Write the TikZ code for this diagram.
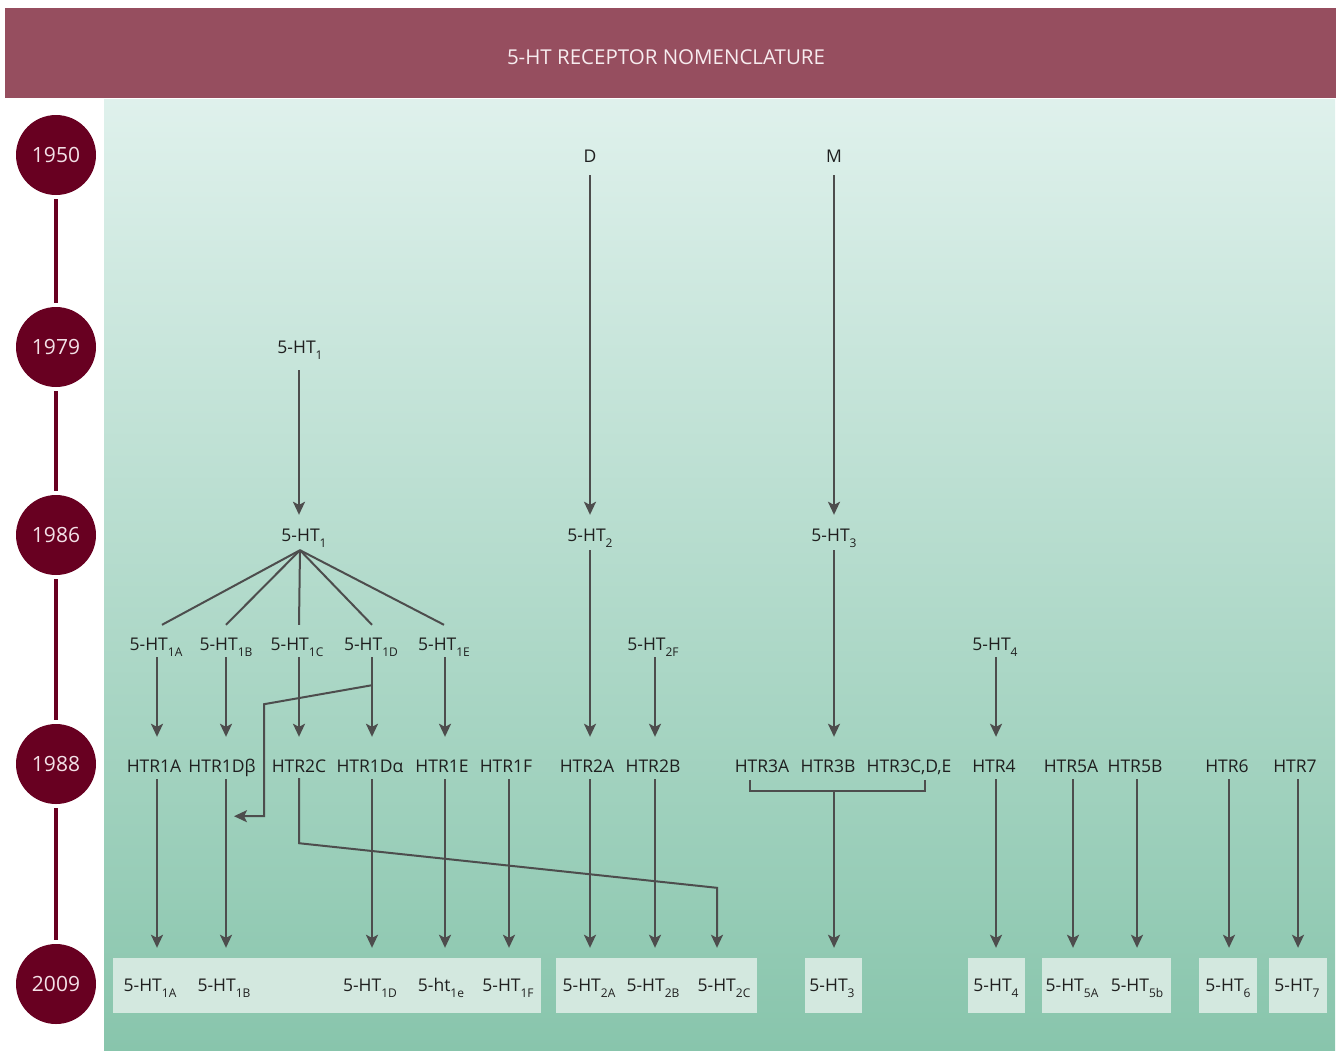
\documentclass[tikz,border=0pt]{standalone}
\usepackage{fontspec}
\setmainfont{Open Sans}
\usetikzlibrary{arrows.meta,calc}
\definecolor{hdr}{HTML}{964E5F}
\definecolor{hdrtext}{HTML}{F7ECEF}
\definecolor{yr}{HTML}{680021}
\definecolor{yrtext}{HTML}{F3E1E7}
\definecolor{gtop}{HTML}{DFF1EC}
\definecolor{gbot}{HTML}{88C5AC}
\definecolor{boxfill}{HTML}{D3E8DF}
\definecolor{txt}{HTML}{1F1F1F}
\definecolor{lncol}{HTML}{4D4D4D}
\newcommand\lsub[1]{\raisebox{-6pt}{\fontsize{12}{12}\selectfont #1}}
\begin{document}
\begin{tikzpicture}[x=1pt,y=-1pt,
  lbl/.style={anchor=base,inner sep=0pt,text height=12pt,text depth=0pt,font=\fontsize{17.5}{17.5}\selectfont,text=txt},
  conn/.style={draw=lncol,line width=2pt},
  arr/.style={conn,-{Stealth[length=13pt,width=12pt,inset=3pt]}},
  yearnode/.style={circle,fill=yr,minimum size=80pt,inner sep=0pt,font=\fontsize{21}{21}\selectfont,text=yrtext},
  tline/.style={draw=yr,line width=4pt,shorten <=4pt,shorten >=4pt},
  bx/.style={fill=boxfill}]
\useasboundingbox (0,0) rectangle (1337,1050);
% header and background
\fill[hdr] (5,8) rectangle (1336,98);
\node[font=\fontsize{20.5}{20.5}\selectfont,text=hdrtext] (title) at (666,57) {5-HT RECEPTOR NOMENCLATURE};
\shade[top color=gtop,bottom color=gbot] (104,99) rectangle (1335,1050);
% 2009 boxes
\fill[bx] (113,958) rectangle (541,1013);
\fill[bx] (556,958) rectangle (757,1013);
\fill[bx] (805,958) rectangle (862,1013);
\fill[bx] (968,958) rectangle (1025,1013);
\fill[bx] (1042,958) rectangle (1171,1013);
\fill[bx] (1199,958) rectangle (1257,1013);
\fill[bx] (1269,958) rectangle (1327,1013);
% timeline
\node[yearnode] (y1) at (56,155) {1950};
\node[yearnode] (y2) at (56,347) {1979};
\node[yearnode] (y3) at (56,535) {1986};
\node[yearnode] (y4) at (56,764) {1988};
\node[yearnode] (y5) at (56,984) {2009};
\draw[tline] (y1) -- (y2);
\draw[tline] (y2) -- (y3);
\draw[tline] (y3) -- (y4);
\draw[tline] (y4) -- (y5);
% row 1950
\node[lbl] (d) at (590,162) {D};
\node[lbl] (m) at (834,162) {M};
% row 1979
\node[lbl] (a1) at (300,353) {5-HT\lsub{1}};
% row 1986
\node[lbl] (c1) at (304,541) {5-HT\lsub{1}};
\node[lbl] (c2) at (590,541) {5-HT\lsub{2}};
\node[lbl] (c3) at (834,541) {5-HT\lsub{3}};
% row subtypes
\node[lbl] (s1a) at (156,650) {5-HT\lsub{1A}};
\node[lbl] (s1b) at (226,650) {5-HT\lsub{1B}};
\node[lbl] (s1c) at (297,650) {5-HT\lsub{1C}};
\node[lbl] (s1d) at (371,650) {5-HT\lsub{1D}};
\node[lbl] (s1e) at (444,650) {5-HT\lsub{1E}};
\node[lbl] (s2f) at (653,650) {5-HT\lsub{2F}};
\node[lbl] (s4) at (995,650) {5-HT\lsub{4}};
% row 1988
\node[lbl] (h1a) at (154,772) {HTR1A};
\node[lbl] (h1db) at (222,772) {HTR1Dβ};
\node[lbl] (h2c) at (299,772) {HTR2C};
\node[lbl] (h1da) at (370,772) {HTR1Dα};
\node[lbl] (h1e) at (442,772) {HTR1E};
\node[lbl] (h1f) at (506,772) {HTR1F};
\node[lbl] (h2a) at (587,772) {HTR2A};
\node[lbl] (h2b) at (653,772) {HTR2B};
\node[lbl] (h3a) at (762,772) {HTR3A};
\node[lbl] (h3b) at (828,772) {HTR3B};
\node[lbl] (h3c) at (909,772) {HTR3C,D,E};
\node[lbl] (h4) at (994,772) {HTR4};
\node[lbl] (h5a) at (1071,772) {HTR5A};
\node[lbl] (h5b) at (1135,772) {HTR5B};
\node[lbl] (h6) at (1227,772) {HTR6};
\node[lbl] (h7) at (1295,772) {HTR7};
% row 2009
\node[lbl] (t1a) at (150,991) {5-HT\lsub{1A}};
\node[lbl] (t1b) at (224,991) {5-HT\lsub{1B}};
\node[lbl] (t1d) at (370,991) {5-HT\lsub{1D}};
\node[lbl] (t1e) at (441,991) {5-ht\lsub{1e}};
\node[lbl] (t1f) at (508,991) {5-HT\lsub{1F}};
\node[lbl] (t2a) at (589,991) {5-HT\lsub{2A}};
\node[lbl] (t2b) at (653,991) {5-HT\lsub{2B}};
\node[lbl] (t2c) at (724,991) {5-HT\lsub{2C}};
\node[lbl] (t3) at (832,991) {5-HT\lsub{3}};
\node[lbl] (t4) at (996,991) {5-HT\lsub{4}};
\node[lbl] (t5a) at (1072,991) {5-HT\lsub{5A}};
\node[lbl] (t5b) at (1137,991) {5-HT\lsub{5b}};
\node[lbl] (t6) at (1228,991) {5-HT\lsub{6}};
\node[lbl] (t7) at (1297,991) {5-HT\lsub{7}};
% 1950 -> 1986
\draw[arr] ($(d.south)+(0,13)$) -- ($(d.south|-c2.north)+(0,-14)$);
\draw[arr] ($(m.south)+(0,13)$) -- ($(m.south|-c3.north)+(0,-14)$);
% 1979 -> 1986
\draw[arr] ($(a1.south)+(-1,17)$) -- ($(a1.south|-c1.north)+(-1,-14)$);
% fan
\coordinate (apex) at ($(c1.south)+(-4,9)$);
\draw[conn] (apex) -- ($(s1a.north)+(6,-13)$);
\draw[conn] (apex) -- ($(s1b.north)+(0,-13)$);
\draw[conn] (apex) -- ($(s1c.north)+(2,-13)$);
\draw[conn] (apex) -- ($(s1d.north)+(1,-13)$);
\draw[conn] (apex) -- ($(s1e.north)+(0,-13)$);
% subtypes -> 1988
\draw[arr] ($(s1a.south)+(1,7)$) -- ($(s1a.south|-h1a.north)+(1,-23)$);
\draw[arr] ($(s1b.south)+(0,7)$) -- ($(s1b.south|-h1db.north)+(0,-23)$);
\draw[arr] ($(s1c.south)+(2,7)$) -- ($(s1c.south|-h2c.north)+(2,-23)$);
\draw[arr] ($(s1d.south)+(1,7)$) -- ($(s1d.south|-h1da.north)+(1,-23)$);
\draw[arr] ($(s1e.south)+(1,7)$) -- ($(s1e.south|-h1e.north)+(1,-23)$);
\draw[arr] ($(c2.south)+(0,9)$) -- ($(c2.south|-h2a.north)+(0,-23)$);
\draw[arr] ($(s2f.south)+(2,7)$) -- ($(s2f.south|-h2b.north)+(2,-23)$);
\draw[arr] ($(c3.south)+(0,9)$) -- ($(c3.south|-h3b.north)+(0,-23)$);
\draw[arr] ($(s4.south)+(1,7)$) -- ($(s4.south|-h4.north)+(1,-23)$);
% 5-HT1D branch to HTR1Dbeta line
\coordinate (brA) at ($(s1d.south)+(1,35)$);
\draw[arr] (brA) -- ++(-108,19) -- ++(0,112) -- ($(h1db.south)+(12,44)$);
% 1988 -> 2009
\draw[arr] ($(h1a.south)+(3,7)$) -- ($(h1a.south|-t1a.north)+(3,-31)$);
\draw[arr] ($(h1db.south)+(4,7)$) -- ($(h1db.south|-t1b.north)+(4,-31)$);
\draw[arr] ($(h1da.south)+(2,7)$) -- ($(h1da.south|-t1d.north)+(2,-31)$);
\draw[arr] ($(h1e.south)+(3,7)$) -- ($(h1e.south|-t1e.north)+(3,-31)$);
\draw[arr] ($(h1f.south)+(3,7)$) -- ($(h1f.south|-t1f.north)+(3,-31)$);
\draw[arr] ($(h2a.south)+(3,7)$) -- ($(h2a.south|-t2a.north)+(3,-31)$);
\draw[arr] ($(h2b.south)+(2,7)$) -- ($(h2b.south|-t2b.north)+(2,-31)$);
\draw[arr] ($(h4.south)+(2,7)$) -- ($(h4.south|-t4.north)+(2,-31)$);
\draw[arr] ($(h5a.south)+(2,7)$) -- ($(h5a.south|-t5a.north)+(2,-31)$);
\draw[arr] ($(h5b.south)+(2,7)$) -- ($(h5b.south|-t5b.north)+(2,-31)$);
\draw[arr] ($(h6.south)+(2,7)$) -- ($(h6.south|-t6.north)+(2,-31)$);
\draw[arr] ($(h7.south)+(3,7)$) -- ($(h7.south|-t7.north)+(3,-31)$);
% HTR2C -> 5-HT2C
\draw[arr] ($(h2c.south)+(0,6)$) -- ($(h2c.south)+(0,71)$) -- ($(t2c.north)+(-7,-91)$) -- ($(t2c.north)+(-7,-31)$);
% HTR3 bracket -> 5-HT3
\draw[conn] ($(h3a.south)+(-12,8)$) -- ++(0,11) -| ($(h3c.south)+(16,8)$);
\coordinate (bm) at ($(c3.south)+(0,250)$);
\draw[arr] (bm) -- ($(bm|-t3.north)+(0,-31)$);
\end{tikzpicture}
\end{document}
